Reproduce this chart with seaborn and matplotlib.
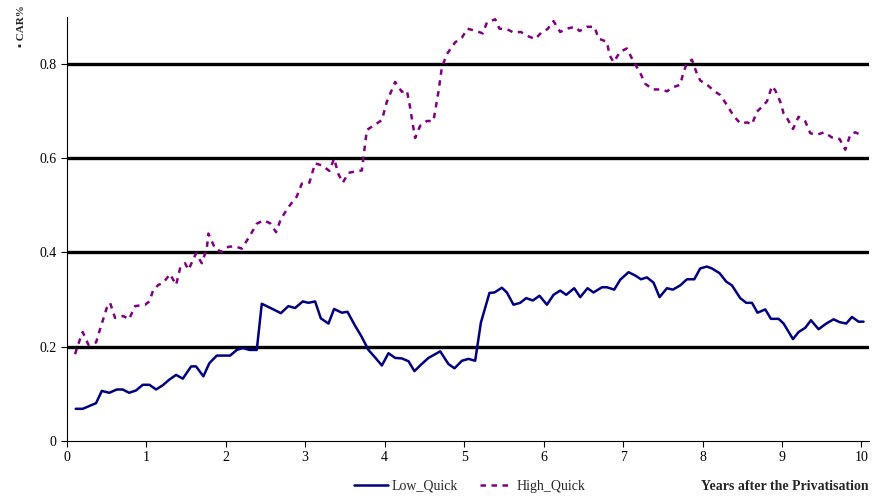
import numpy as np
import pandas as pd
import matplotlib
matplotlib.use("Agg")
import matplotlib.pyplot as plt
import seaborn as sns

# ── Data ────────────────────────────────────────────────────────────────────
low_years = [0.113, 0.201, 0.369, 0.441, 0.536, 0.629, 0.705, 0.784, 0.872, 0.957,
             1.040, 1.124, 1.208, 1.291, 1.376, 1.460, 1.565, 1.627, 1.719, 1.795,
             1.888, 2.055, 2.140, 2.215, 2.298, 2.391, 2.454, 2.600, 2.694, 2.789,
             2.873, 2.970, 3.041, 3.125, 3.197, 3.293, 3.364, 3.461, 3.532, 3.629,
             3.704, 3.796, 3.880, 3.965, 4.048, 4.132, 4.216, 4.300, 4.375, 4.459,
             4.551, 4.699, 4.803, 4.879, 4.972, 5.055, 5.139, 5.211, 5.319, 5.382,
             5.475, 5.538, 5.621, 5.706, 5.781, 5.865, 5.948, 6.042, 6.125, 6.209,
             6.285, 6.385, 6.461, 6.553, 6.628, 6.734, 6.797, 6.889, 6.964, 7.069,
             7.153, 7.225, 7.300, 7.383, 7.459, 7.552, 7.627, 7.719, 7.804, 7.896,
             7.971, 8.055, 8.118, 8.214, 8.298, 8.370, 8.474, 8.550, 8.622, 8.692,
             8.789, 8.861, 8.957, 9.020, 9.138, 9.209, 9.293, 9.364, 9.460, 9.557,
             9.649, 9.724, 9.808, 9.880, 9.963, 10.026]
low_car = [0.068, 0.068, 0.080, 0.106, 0.102, 0.109, 0.109, 0.102, 0.107, 0.119,
           0.119, 0.109, 0.118, 0.130, 0.140, 0.132, 0.158, 0.158, 0.137, 0.165,
           0.181, 0.181, 0.193, 0.197, 0.193, 0.193, 0.291, 0.279, 0.271, 0.286,
           0.282, 0.296, 0.293, 0.296, 0.260, 0.249, 0.280, 0.272, 0.274, 0.244,
           0.223, 0.193, 0.177, 0.160, 0.186, 0.176, 0.175, 0.169, 0.148, 0.162,
           0.176, 0.190, 0.163, 0.154, 0.170, 0.174, 0.170, 0.251, 0.314, 0.315,
           0.325, 0.315, 0.289, 0.293, 0.303, 0.298, 0.308, 0.289, 0.310, 0.319,
           0.310, 0.324, 0.305, 0.324, 0.315, 0.326, 0.326, 0.321, 0.342, 0.358,
           0.351, 0.343, 0.347, 0.336, 0.305, 0.324, 0.321, 0.330, 0.343, 0.343,
           0.366, 0.370, 0.366, 0.356, 0.338, 0.330, 0.303, 0.293, 0.293, 0.272,
           0.279, 0.259, 0.259, 0.249, 0.216, 0.231, 0.240, 0.256, 0.237, 0.249,
           0.258, 0.252, 0.249, 0.263, 0.253, 0.253]

high_years = [0.104, 0.167, 0.201, 0.272, 0.369, 0.419, 0.503, 0.545, 0.608, 0.712,
              0.784, 0.860, 0.986, 1.040, 1.090, 1.153, 1.216, 1.300, 1.376, 1.426,
              1.489, 1.531, 1.627, 1.699, 1.762, 1.782, 1.867, 1.951, 2.034, 2.118,
              2.203, 2.244, 2.307, 2.391, 2.475, 2.559, 2.634, 2.694, 2.789, 2.895,
              2.958, 3.053, 3.125, 3.210, 3.305, 3.364, 3.419, 3.474, 3.544, 3.607,
              3.713, 3.733, 3.776, 3.859, 3.965, 4.028, 4.132, 4.216, 4.279, 4.312,
              4.362, 4.384, 4.447, 4.531, 4.614, 4.648, 4.677, 4.720, 4.783, 4.887,
              4.972, 5.042, 5.152, 5.236, 5.286, 5.391, 5.445, 5.538, 5.621, 5.714,
              5.790, 5.894, 5.979, 6.049, 6.125, 6.209, 6.293, 6.398, 6.452, 6.545,
              6.641, 6.691, 6.797, 6.830, 6.880, 6.964, 7.048, 7.132, 7.216, 7.279,
              7.376, 7.489, 7.552, 7.635, 7.719, 7.761, 7.804, 7.867, 7.930, 7.971,
              8.063, 8.160, 8.223, 8.307, 8.390, 8.475, 8.559, 8.622, 8.685, 8.748,
              8.811, 8.874, 8.915, 8.978, 9.020, 9.070, 9.138, 9.208, 9.293, 9.356,
              9.440, 9.532, 9.629, 9.724, 9.796, 9.859, 9.922, 9.985]
high_car = [0.184, 0.216, 0.231, 0.204, 0.209, 0.237, 0.282, 0.293, 0.261, 0.265,
            0.258, 0.286, 0.289, 0.296, 0.321, 0.331, 0.336, 0.354, 0.331, 0.366,
            0.377, 0.363, 0.398, 0.377, 0.408, 0.440, 0.408, 0.401, 0.412, 0.413,
            0.408, 0.419, 0.436, 0.461, 0.468, 0.462, 0.443, 0.471, 0.496, 0.519,
            0.546, 0.548, 0.589, 0.585, 0.573, 0.599, 0.566, 0.548, 0.569, 0.571,
            0.574, 0.601, 0.660, 0.669, 0.681, 0.720, 0.762, 0.741, 0.744, 0.716,
            0.664, 0.643, 0.669, 0.679, 0.679, 0.713, 0.741, 0.793, 0.821, 0.846,
            0.856, 0.875, 0.870, 0.865, 0.888, 0.895, 0.875, 0.874, 0.867, 0.868,
            0.860, 0.853, 0.868, 0.874, 0.891, 0.868, 0.875, 0.879, 0.870, 0.879,
            0.879, 0.854, 0.847, 0.819, 0.804, 0.826, 0.833, 0.805, 0.781, 0.758,
            0.746, 0.746, 0.742, 0.751, 0.756, 0.783, 0.802, 0.809, 0.779, 0.765,
            0.755, 0.741, 0.734, 0.713, 0.690, 0.674, 0.676, 0.672, 0.699, 0.709,
            0.721, 0.753, 0.744, 0.720, 0.695, 0.683, 0.662, 0.688, 0.678, 0.653,
            0.650, 0.655, 0.644, 0.641, 0.618, 0.650, 0.655, 0.650]

y_ticks = [0, 0.2, 0.4, 0.6, 0.8]
y_tick_labels = ["0", "0.2", "0.4", "0.6", "0.8"]
x_ticks = list(range(0, 11))

df = pd.concat([
    pd.DataFrame({"Years": low_years, "CAR": low_car, "Group": "Low_Quick"}),
    pd.DataFrame({"Years": high_years, "CAR": high_car, "Group": "High_Quick"}),
])

# ── Plot ────────────────────────────────────────────────────────────────────
sns.set_style("white")
plt.rcParams["font.family"] = ["Liberation Serif", "DejaVu Sans"]

fig = plt.figure(figsize=(8.9, 4.97), dpi=100)
ax = fig.add_axes([0.075, 0.113, 0.901, 0.853])

for yv in y_ticks[1:]:
    ax.axhline(yv, color="black", linewidth=2.4, zorder=1)

sns.lineplot(data=df, x="Years", y="CAR", hue="Group", style="Group",
             palette={"Low_Quick": "#000080", "High_Quick": "#800080"},
             dashes={"Low_Quick": "", "High_Quick": (2.2, 2.2)},
             linewidth=1.8, sort=False, estimator=None, ax=ax, zorder=3)

ax.set_xlim(0, 10.09)
ax.set_ylim(0, 0.9)
ax.set_xticks(x_ticks)
ax.set_yticks(y_ticks)
ax.set_yticklabels(y_tick_labels)
ax.tick_params(axis="both", direction="out", length=4, width=0.8,
               labelsize=10, colors="black", left=True, bottom=True)
for s in ["top", "right"]:
    ax.spines[s].set_visible(False)
for s in ["left", "bottom"]:
    ax.spines[s].set_color("black")
    ax.spines[s].set_linewidth(0.8)
ax.set_xlabel("")
ax.set_ylabel("")

handles, labels = ax.get_legend_handles_labels()
ax.legend_.remove()
fig.legend(handles, labels, loc="center", bbox_to_anchor=(0.528, 0.022),
           ncol=2, frameon=False, fontsize=10, handlelength=2.4,
           columnspacing=1.6, handletextpad=0.25)

fig.text(0.976, 0.022, "Years after the Privatisation", ha="right", va="center",
         fontsize=10, fontweight="bold")
fig.text(0.024, 0.99, "\u25aa CAR%", rotation=90, ha="center", va="top",
         fontsize=8, fontweight="bold")

fig.savefig("out.png", dpi=100)
